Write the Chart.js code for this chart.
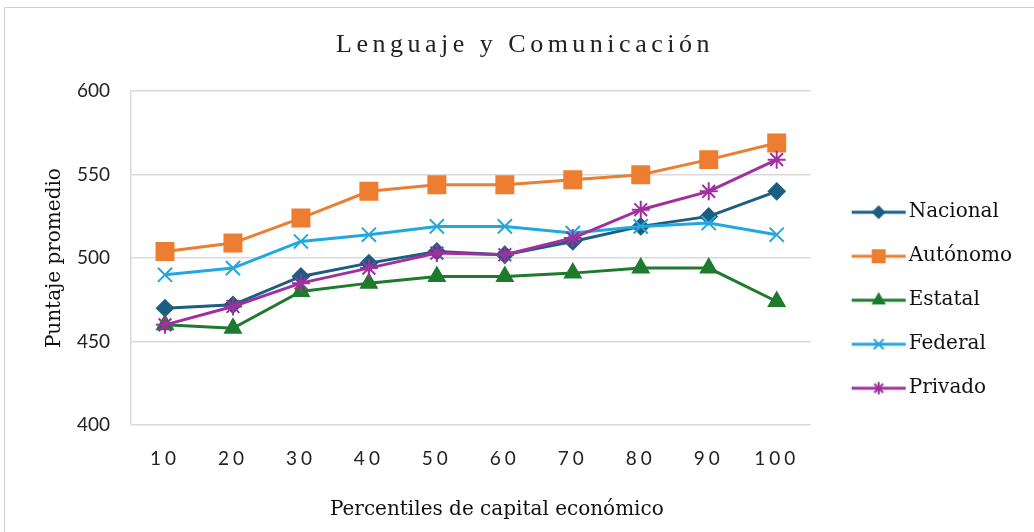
<!DOCTYPE html>
<html>
<head>
<meta charset="utf-8">
<script src="https://cdn.jsdelivr.net/npm/chart.js@4/dist/chart.umd.min.js"></script>
<style>
  html, body { margin: 0; padding: 0; background: #fff; }
  #wrap { position: relative; width: 1034px; height: 532px; }
</style>
</head>
<body>
<div id="wrap"><canvas id="line-chart" width="1034" height="532"></canvas></div>
<script>
const percentiles = ['10', '20', '30', '40', '50', '60', '70', '80', '90', '100'];

const nacional = [470, 472, 489, 497, 504, 502, 510, 519, 525, 540];
const autonomo = [504, 509, 524, 540, 544, 544, 547, 550, 559, 569];
const estatal = [460, 458, 480, 485, 489, 489, 491, 494, 494, 474];
const federal = [490, 494, 510, 514, 519, 519, 515, 519, 521, 514];
const privado = [460, 471, 485, 494, 503, 502, 512, 529, 540, 559];

const series_names = ['Nacional', 'Autónomo', 'Estatal', 'Federal', 'Privado'];
const series_colors = ['#1C5D82', '#ED7D31', '#1E7A2C', '#22A7DF', '#A0309E'];
const series_markers = ['rectRot', 'rect', 'triangle', 'crossRot', 'star'];
const marker_sizes = [8, 12, 9, 10, 9];

const y_ticks = [400, 450, 500, 550, 600];

const serif = "'DejaVu Serif', 'Liberation Serif', serif";
const sans = "Lato, 'Open Sans', sans-serif";

// small line + marker picture used as the legend symbol
function legend_icon(color, marker, size) {
    const c = document.createElement('canvas');
    c.width = 80;
    c.height = 22;
    const ctx = c.getContext('2d');
    ctx.strokeStyle = color;
    ctx.fillStyle = color;
    ctx.lineWidth = 3;
    ctx.beginPath();
    ctx.moveTo(25, 11);
    ctx.lineTo(79, 11);
    ctx.stroke();
    ctx.lineWidth = 2;
    Chart.helpers.drawPoint(ctx, {pointStyle: marker, radius: size, borderWidth: 2, rotation: 0}, 52, 11);
    return c;
}

const all_values = [nacional, autonomo, estatal, federal, privado];
const datasets = all_values.map((vals, i) => ({
    label: series_names[i],
    data: vals,
    borderColor: series_colors[i],
    backgroundColor: series_colors[i],
    pointBackgroundColor: series_colors[i],
    pointBorderColor: series_colors[i],
    pointStyle: series_markers[i],
    pointRadius: marker_sizes[i],
    pointBorderWidth: 2,
    borderWidth: 3,
    tension: 0,
    order: all_values.length - i
}));

// letter spaced title / x tick labels, small nudges of the two titles
const spacing_plugin = {
    id: 'spacing',
    beforeDraw(chart) {
        const ctx = chart.ctx;
        const xs = chart.scales.x;
        if (!xs._patched) {
            const orig = xs.drawLabels;
            xs.drawLabels = function (area) {
                ctx.save();
                ctx.letterSpacing = '4px';
                orig.call(this, area);
                ctx.restore();
            };
            const orig_title = xs.drawTitle;
            xs.drawTitle = function () {
                ctx.save();
                ctx.translate(26, 0);
                orig_title.call(this);
                ctx.restore();
            };
            xs._patched = true;
        }
        const tb = chart.titleBlock;
        if (tb && !tb._patched) {
            const orig_t = tb.draw;
            tb.draw = function () {
                ctx.save();
                ctx.translate(10, 0);
                ctx.letterSpacing = '4.5px';
                orig_t.call(this);
                ctx.restore();
            };
            tb._patched = true;
        }
        // outer frame
        ctx.save();
        ctx.strokeStyle = '#d0d0d0';
        ctx.lineWidth = 1;
        ctx.strokeRect(4.5, 7.5, 1040, 540);
        ctx.restore();
    }
};

const chart = new Chart(document.getElementById('line-chart'), {
    type: 'line',
    data: {
        labels: percentiles,
        datasets: datasets
    },
    options: {
        responsive: false,
        animation: false,
        layout: {
            padding: {left: 8, right: 12, top: 0, bottom: 4}
        },
        plugins: {
            title: {
                display: true,
                text: 'Lenguaje y Comunicación',
                color: '#222',
                font: {family: "'Liberation Serif', serif", size: 26, weight: 'normal'},
                padding: {top: 30, bottom: 30}
            },
            legend: {
                position: 'right',
                title: {display: true, text: '', padding: 29},
                labels: {
                    color: '#111',
                    font: {family: serif, size: 20},
                    usePointStyle: true,
                    pointStyleWidth: 64,
                    boxHeight: 20,
                    padding: 24,
                    generateLabels(chart) {
                        return chart.data.datasets.map((ds, i) => ({
                            text: ds.label,
                            pointStyle: legend_icon(series_colors[i], series_markers[i], marker_sizes[i] * 0.7),
                            fillStyle: series_colors[i],
                            strokeStyle: series_colors[i],
                            lineWidth: 0,
                            fontColor: '#111',
                            datasetIndex: i
                        }));
                    }
                }
            },
            tooltip: {enabled: false}
        },
        scales: {
            x: {
                offset: true,
                grid: {display: false},
                border: {display: false},
                ticks: {
                    color: '#222',
                    padding: 14,
                    font: {family: sans, size: 19}
                },
                title: {
                    display: true,
                    text: 'Percentiles de capital económico',
                    color: '#111',
                    font: {family: serif, size: 20},
                    padding: {top: 0, bottom: 6}
                },
                afterFit(scale) { scale.height = 103; }
            },
            y: {
                min: 400,
                max: 600,
                afterBuildTicks(scale) { scale.ticks = y_ticks.map(v => ({value: v})); },
                grid: {color: '#d9d9d9', lineWidth: 1.5, drawTicks: false},
                border: {display: true, color: '#d9d9d9', width: 1.5},
                ticks: {
                    color: '#222',
                    padding: 21,
                    font: {family: sans, size: 19}
                },
                title: {
                    display: true,
                    text: 'Puntaje promedio',
                    color: '#111',
                    font: {family: serif, size: 20},
                    padding: {top: 35, bottom: 0}
                },
                afterFit(scale) { scale.width = 123; }
            }
        }
    },
    plugins: [spacing_plugin]
});
</script>
</body>
</html>
